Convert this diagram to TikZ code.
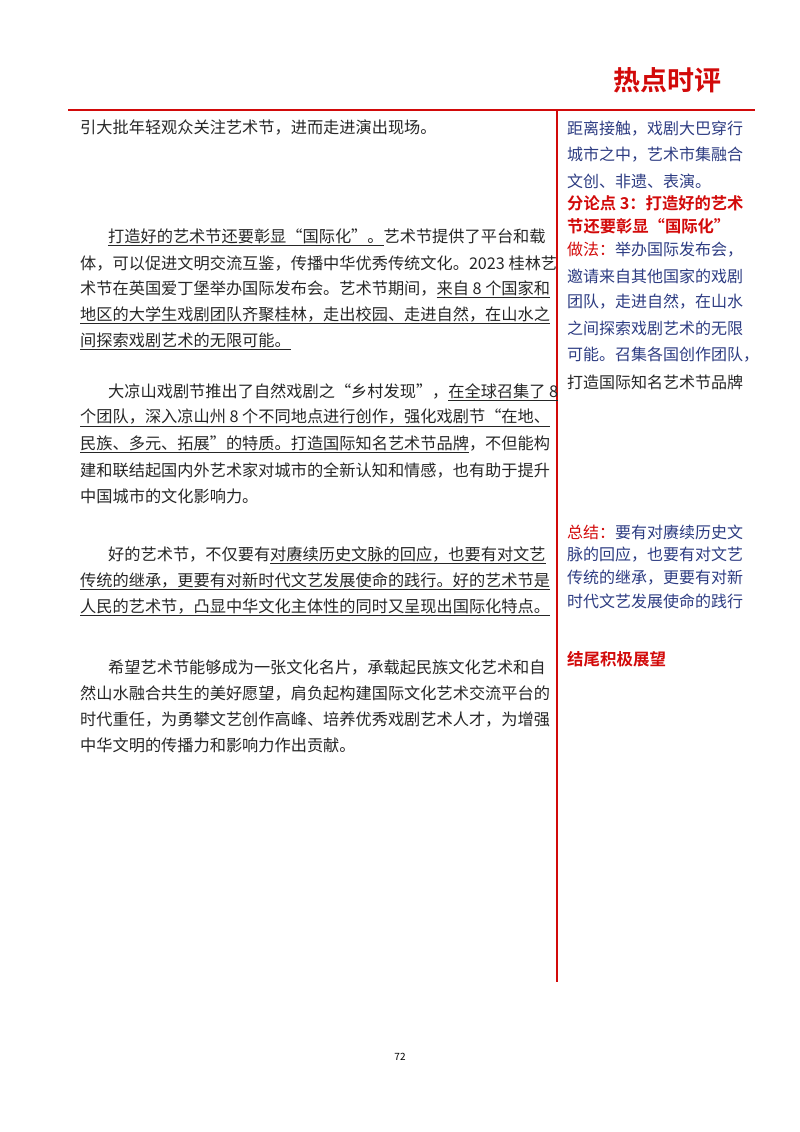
\documentclass[tikz,border=0pt]{standalone}
\usepackage{fontspec}
\newfontfamily\bodyf{Noto Sans CJK SC}
\newfontfamily\sidef{Noto Sans CJK SC}
\newfontfamily\plainf{Noto Sans CJK SC}
\newfontfamily\titlef{Noto Sans CJK SC Bold}
\definecolor{pred}{RGB}{210,10,10}
\definecolor{sblue}{RGB}{45,60,130}
\begin{document}
\begin{tikzpicture}[x=1pt,y=-1pt,
 body/.style={anchor=west,inner sep=0pt,font=\bodyf\fontsize{16.2}{16}\selectfont,text=black!85},
 side/.style={anchor=west,inner sep=0pt,font=\sidef\fontsize{16}{16}\selectfont,text=sblue},
 sred/.style={side,text=pred},
 rule/.style={pred,line width=2.2pt}]
\useasboundingbox (0,0) rectangle (800,1132);
\node[anchor=center,inner sep=0pt,font=\titlef\fontsize{27}{27}\selectfont,text=pred] (title) at (667,80) {热点时评};
\coordinate (hl) at (68,110); \coordinate (hr) at (755,110);
\coordinate (vt) at (557,110); \coordinate (vb) at (557,982);
\draw[rule] (hl) -- (hr);
\draw[rule] (vt) -- (vb);
% left column
\node[body] (a1) at (80,128) {引大批年轻观众关注艺术节，进而走进演出现场。};
\node[body] (b1) at (108,237) {\underline{打造好的艺术节还要彰显“国际化”。}艺术节提供了平台和载};
\node[body] (b2) at (80,263) {体，可以促进文明交流互鉴，传播中华优秀传统文化。2023 桂林艺};
\node[body] (b3) at (80,289) {术节在英国爱丁堡举办国际发布会。艺术节期间，\underline{来自 8 个国家和}};
\node[body] (b4) at (80,315) {\underline{地区的大学生戏剧团队齐聚桂林，走出校园、走进自然，在山水之}};
\node[body] (b5) at (80,341) {\underline{间探索戏剧艺术的无限可能。}};
\node[body] (c1) at (108,392) {大凉山戏剧节推出了自然戏剧之“乡村发现”，\underline{在全球召集了 8}};
\node[body] (c2) at (80,418) {\underline{个团队，深入凉山州 8 个不同地点进行创作，强化戏剧节“在地、}};
\node[body] (c3) at (80,444) {\underline{民族、多元、拓展”的特质。打造国际知名艺术节品牌}，不但能构};
\node[body] (c4) at (80,470) {建和联结起国内外艺术家对城市的全新认知和情感，也有助于提升};
\node[body] (c5) at (80,496) {中国城市的文化影响力。};
\node[body] (d1) at (108,555) {好的艺术节，不仅要有\underline{对赓续历史文脉的回应，也要有对文艺}};
\node[body] (d2) at (80,581) {\underline{传统的继承，更要有对新时代文艺发展使命的践行。好的艺术节是}};
\node[body] (d3) at (80,607) {\underline{人民的艺术节，凸显中华文化主体性的同时又呈现出国际化特点。}};
\node[body] (e1) at (108,667) {希望艺术节能够成为一张文化名片，承载起民族文化艺术和自};
\node[body] (e2) at (80,693) {然山水融合共生的美好愿望，肩负起构建国际文化艺术交流平台的};
\node[body] (e3) at (80,719) {时代重任，为勇攀文艺创作高峰、培养优秀戏剧艺术人才，为增强};
\node[body] (e4) at (80,745) {中华文明的传播力和影响力作出贡献。};
% right column
\node[side] (r1) at (567,129) {距离接触，戏剧大巴穿行};
\node[side] (r2) at (567,155) {城市之中，艺术市集融合};
\node[side] (r3) at (567,181) {文创、非遗、表演。};
\node[sred,font=\titlef\fontsize{16.3}{16.3}\selectfont] (r4) at (567,203) {分论点 3：打造好的艺术};
\node[sred,font=\titlef\fontsize{16.3}{16.3}\selectfont] (r5) at (567,226) {节还要彰显“国际化”};
\node[side] (r6) at (567,250) {\textcolor{pred}{做法：}举办国际发布会，};
\node[side] (r7) at (567,276) {邀请来自其他国家的戏剧};
\node[side] (r8) at (567,302) {团队，走进自然，在山水};
\node[side] (r9) at (567,328) {之间探索戏剧艺术的无限};
\node[side] (r10) at (567,355) {可能。召集各国创作团队，};
\node[side,font=\plainf\fontsize{16}{16}\selectfont,text=black!85] (r11) at (567,382) {打造国际知名艺术节品牌};
\node[side] (s1) at (567,532) {\textcolor{pred}{总结：}要有对赓续历史文};
\node[side] (s2) at (567,555) {脉的回应，也要有对文艺};
\node[side] (s3) at (567,578) {传统的继承，更要有对新};
\node[side] (s4) at (567,601) {时代文艺发展使命的践行};
\node[sred,font=\titlef\fontsize{16.5}{16.5}\selectfont] (t1) at (567,659) {结尾积极展望};
\node[inner sep=0pt,font=\plainf\fontsize{10}{10}\selectfont] (pg) at (400,1057) {72};
\end{tikzpicture}
\end{document}
